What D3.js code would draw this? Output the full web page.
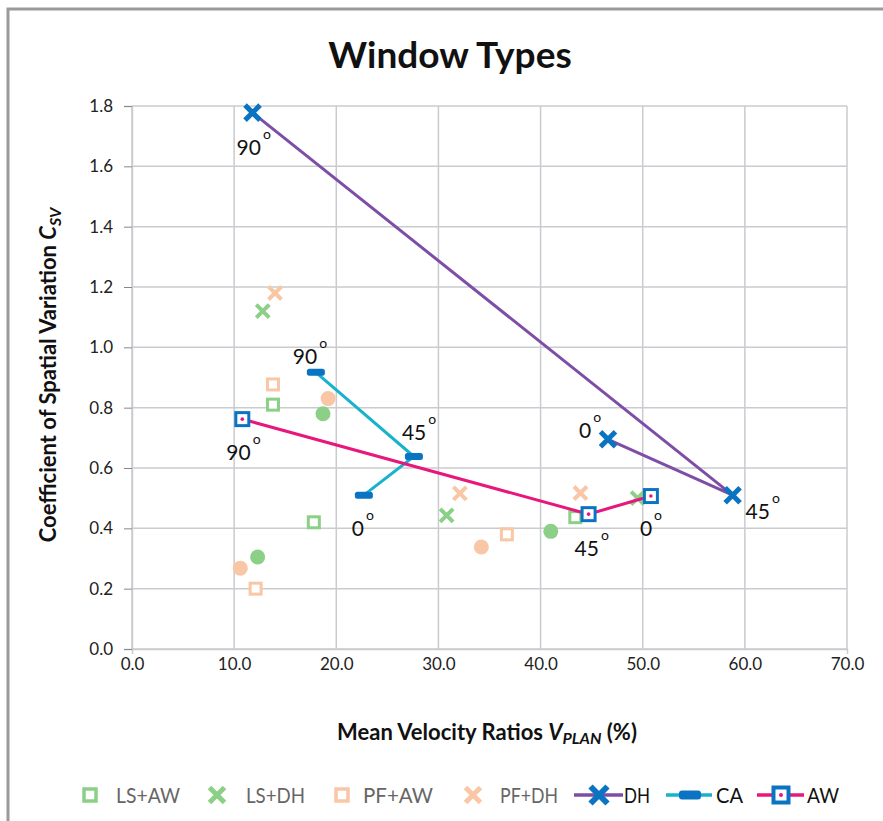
<!DOCTYPE html>
<html>
<head>
<meta charset="utf-8">
<script src="https://cdn.jsdelivr.net/npm/d3@7"></script>
<style>
  html, body { margin: 0; padding: 0; background: #fff; }
  svg { display: block; }
  text { font-family: Lato, "Open Sans", sans-serif; }
</style>
</head>
<body>
<svg id="chart" width="883" height="821"></svg>
<script>
// ---------------- DATA ----------------
const xTicks = [0, 10, 20, 30, 40, 50, 60, 70];
const yTicks = [0, 0.2, 0.4, 0.6, 0.8, 1.0, 1.2, 1.4, 1.6, 1.8];

// scatter-only groups
const lsAwX = [13.8, 17.8, 43.4];
const lsAwY = [0.81, 0.42, 0.437];
const lsDhX = [12.8, 30.8, 49.5];
const lsDhY = [1.12, 0.443, 0.50];
const pfAwX = [13.8, 12.1, 36.7];
const pfAwY = [0.877, 0.20, 0.38];
const pfDhX = [14.0, 32.1, 43.9];
const pfDhY = [1.18, 0.516, 0.517];
// unlabelled circle groups (not in legend)
const lsCaX = [18.7, 12.3, 41.0];
const lsCaY = [0.78, 0.305, 0.39];
const pfCaX = [19.2, 10.6, 34.2];
const pfCaY = [0.83, 0.268, 0.338];

// line series, ordered 90°, 45°, 0°
const angles = ["90", "45", "0"];
const dhX = [11.8, 58.8, 46.6];
const dhY = [1.778, 0.51, 0.695];
const caX = [18.0, 27.6, 22.7];
const caY = [0.917, 0.638, 0.51];
const awX = [10.8, 44.7, 50.8];
const awY = [0.762, 0.447, 0.507];

const legendNames = ["LS+AW", "LS+DH", "PF+AW", "PF+DH", "DH", "CA", "AW"];

// ---------------- STYLE / LAYOUT ----------------
const C = {
  green: "#8ccf86",
  peach: "#f9c6a6",
  blue: "#0b74c2",
  purple: "#7e4ea6",
  cyan: "#17b2cc",
  pink: "#e8177c",
  grid: "#c9cbcf",
  frame: "#9a9a9a"
};
// label offsets (px) relative to marker, per series in order 90,45,0
const labelOff = {
  DH: [[-16, 42], [13, 24], [-29, -1]],
  CA: [[-23, -8], [-12, -17], [-12, 41]],
  AW: [[-16, 41], [-14, 42], [-11, 40]]
};

const svg = d3.select("#chart");
const plot = { left: 132, right: 847, top: 106, bottom: 649 };

const x = d3.scaleLinear().domain([0, 70]).range([plot.left, plot.right]);
const y = d3.scaleLinear().domain([0, 1.8]).range([plot.bottom, plot.top]);

// outer frame
svg.append("rect").attr("x", 8).attr("y", 9).attr("width", 900).attr("height", 840)
  .attr("fill", "#fff").attr("stroke", C.frame).attr("stroke-width", 3);

// title
svg.append("text").attr("x", 450).attr("y", 68).attr("text-anchor", "middle")
  .attr("font-size", 37).attr("font-weight", "bold").attr("fill", "#111")
  .text("Window Types");

// grid
const g = svg.append("g");
g.selectAll("line.v").data(xTicks).join("line")
  .attr("x1", d => x(d)).attr("x2", d => x(d))
  .attr("y1", plot.top).attr("y2", plot.bottom)
  .attr("stroke", C.grid).attr("stroke-width", 1.5);
g.selectAll("line.h").data(yTicks).join("line")
  .attr("x1", plot.left).attr("x2", plot.right)
  .attr("y1", d => y(d)).attr("y2", d => y(d))
  .attr("stroke", C.grid).attr("stroke-width", 1.5);

// axes
const xAxis = d3.axisBottom(x).tickValues(xTicks).tickFormat(d3.format(".1f")).tickSize(5).tickPadding(2);
const yAxis = d3.axisLeft(y).tickValues(yTicks).tickFormat(d3.format(".1f")).tickSize(8).tickPadding(11);
const gx = svg.append("g").attr("transform", `translate(0,${plot.bottom})`).call(xAxis);
const gy = svg.append("g").attr("transform", `translate(${plot.left},0)`).call(yAxis);
[gx, gy].forEach(a => {
  a.select(".domain").attr("stroke", C.grid).attr("stroke-width", 1.5);
  a.selectAll(".tick line").attr("stroke", "#888").attr("stroke-width", 1);
  a.selectAll(".tick text").attr("font-size", 17).attr("fill", "#222")
    .attr("font-family", "Lato, sans-serif");
});
gx.selectAll(".tick line").remove();
gx.selectAll(".tick text").attr("dy", "0.85em");

// axis titles
const xt = svg.append("text").attr("x", 487).attr("y", 740).attr("text-anchor", "middle")
  .attr("font-size", 22).attr("font-weight", "bold").attr("fill", "#111");
xt.append("tspan").text("Mean Velocity Ratios ");
xt.append("tspan").attr("font-style", "italic").text("V");
xt.append("tspan").attr("font-style", "italic").attr("font-size", 16).attr("dy", 4).text("PLAN");
xt.append("tspan").attr("dy", -4).text(" (%)");

const yt = svg.append("text").attr("transform", `translate(56,375) rotate(-90)`)
  .attr("text-anchor", "middle").attr("font-size", 22).attr("font-weight", "bold").attr("fill", "#111");
yt.append("tspan").text("Coefficient of Spatial Variation ");
yt.append("tspan").attr("font-style", "italic").text("C");
yt.append("tspan").attr("font-style", "italic").attr("font-size", 16).attr("dy", 5).text("SV");

// ---------------- MARKERS ----------------
function zip(xs, ys) { return xs.map((v, i) => ({ x: v, y: ys[i], i })); }

function drawSquare(sel, px, py, size, stroke, sw) {
  sel.append("rect").attr("x", px - size / 2).attr("y", py - size / 2)
    .attr("width", size).attr("height", size).attr("fill", "#fff")
    .attr("stroke", stroke).attr("stroke-width", sw);
}
function drawX(sel, px, py, size, stroke, sw) {
  const h = size / 2;
  sel.append("path").attr("d", `M${px - h},${py - h}L${px + h},${py + h}M${px - h},${py + h}L${px + h},${py - h}`)
    .attr("stroke", stroke).attr("stroke-width", sw).attr("fill", "none");
}
function drawDash(sel, px, py, stroke) {
  sel.append("rect").attr("x", px - 9).attr("y", py - 3.5).attr("width", 18).attr("height", 7)
    .attr("rx", 2.5).attr("fill", stroke);
}
function drawCircle(sel, px, py, r, fill) {
  sel.append("circle").attr("cx", px).attr("cy", py).attr("r", r).attr("fill", fill);
}

const m = svg.append("g");
zip(lsCaX, lsCaY).forEach(d => drawCircle(m, x(d.x), y(d.y), 7.5, C.green));
zip(pfCaX, pfCaY).forEach(d => drawCircle(m, x(d.x), y(d.y), 7.5, C.peach));
zip(lsAwX, lsAwY).forEach(d => drawSquare(m, x(d.x), y(d.y), 11, C.green, 3));
zip(pfAwX, pfAwY).forEach(d => drawSquare(m, x(d.x), y(d.y), 11, C.peach, 3));
zip(lsDhX, lsDhY).forEach(d => drawX(m, x(d.x), y(d.y), 13, C.green, 4));
zip(pfDhX, pfDhY).forEach(d => drawX(m, x(d.x), y(d.y), 13, C.peach, 4));

const line = d3.line().x(d => x(d.x)).y(d => y(d.y));
const dh = zip(dhX, dhY), ca = zip(caX, caY), aw = zip(awX, awY);

svg.append("path").attr("d", line(dh)).attr("fill", "none").attr("stroke", C.purple).attr("stroke-width", 3);
svg.append("path").attr("d", line(ca)).attr("fill", "none").attr("stroke", C.cyan).attr("stroke-width", 3);
svg.append("path").attr("d", line(aw)).attr("fill", "none").attr("stroke", C.pink).attr("stroke-width", 3);

const lm = svg.append("g");
dh.forEach(d => drawX(lm, x(d.x), y(d.y), 15, C.blue, 5));
ca.forEach(d => drawDash(lm, x(d.x), y(d.y), C.blue));
aw.forEach(d => {
  drawSquare(lm, x(d.x), y(d.y), 13, C.blue, 3);
  drawCircle(lm, x(d.x), y(d.y), 1.8, C.pink);
});

// angle labels
function angleLabels(pts, key) {
  pts.forEach((d, i) => {
    const [dx, dy] = labelOff[key][i];
    const t = svg.append("text").attr("x", x(d.x) + dx).attr("y", y(d.y) + dy)
      .attr("font-size", 21).attr("fill", "#111");
    t.append("tspan").text(angles[i]);
    t.append("tspan").attr("font-size", 14).attr("dx", 2).attr("dy", -16).text("o");
  });
}
angleLabels(dh, "DH");
angleLabels(ca, "CA");
angleLabels(aw, "AW");

// ---------------- LEGEND ----------------
const ly = 795;
const leg = svg.append("g");
const legendItems = [
  { name: legendNames[0], tx: 116, w: 64, draw: s => drawSquare(s, 90, ly, 12, C.green, 3.5), col: "#666" },
  { name: legendNames[1], tx: 246, w: 59, draw: s => drawX(s, 217, ly, 15, C.green, 5), col: "#666" },
  { name: legendNames[2], tx: 363, w: 70, draw: s => drawSquare(s, 342, ly, 12, C.peach, 3.5), col: "#666" },
  { name: legendNames[3], tx: 500, w: 58, draw: s => drawX(s, 473, ly, 15, C.peach, 5), col: "#666" },
  { name: legendNames[4], tx: 624, w: 26, draw: s => {
      s.append("line").attr("x1", 574).attr("x2", 623).attr("y1", ly).attr("y2", ly).attr("stroke", C.purple).attr("stroke-width", 3.5);
      drawX(s, 599, ly, 17, C.blue, 6);
    }, col: "#111" },
  { name: legendNames[5], tx: 716, w: 27, draw: s => {
      s.append("line").attr("x1", 666).attr("x2", 712).attr("y1", ly).attr("y2", ly).attr("stroke", C.cyan).attr("stroke-width", 3.5);
      s.append("rect").attr("x", 679).attr("y", ly - 4.5).attr("width", 22).attr("height", 9)
        .attr("rx", 3).attr("fill", C.blue);
    }, col: "#111" },
  { name: legendNames[6], tx: 807, w: 32, draw: s => {
      s.append("line").attr("x1", 757).attr("x2", 804).attr("y1", ly).attr("y2", ly).attr("stroke", C.pink).attr("stroke-width", 3.5);
      drawSquare(s, 781, ly, 15, C.blue, 4);
      drawCircle(s, 781, ly, 2, C.pink);
    }, col: "#111" }
];
legendItems.forEach(it => {
  it.draw(leg);
  leg.append("text").attr("x", it.tx).attr("y", ly + 8).attr("font-size", 22)
    .attr("textLength", it.w).attr("lengthAdjust", "spacingAndGlyphs")
    .attr("fill", it.col).text(it.name);
});
</script>
</body>
</html>
